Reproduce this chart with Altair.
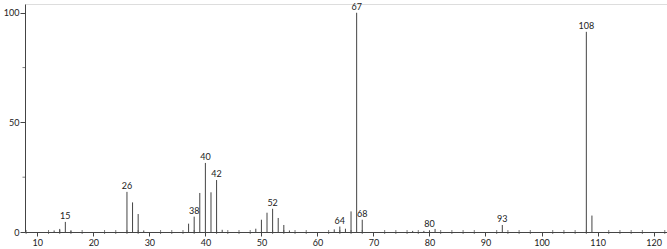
import altair as alt
import pandas as pd

# Mass spectrum peaks (m/z, relative intensity)
mz = [13, 14, 15, 16, 26, 27, 28, 29, 37, 38, 39, 40, 41, 42, 43,
      49, 50, 51, 52, 53, 54, 55, 63, 64, 65, 66, 67, 68,
      77, 79, 80, 81, 93, 108, 109]
intensity = [0.7, 1.4, 4.6, 0.5, 18.3, 13.5, 8.2, 0.7, 3.8, 7.0, 17.8, 31.5, 18.1, 23.7, 1.0,
             1.5, 5.6, 8.8, 10.6, 6.4, 3.2, 0.7, 1.2, 2.5, 1.5, 9.4, 100.0, 5.6,
             0.5, 0.5, 0.8, 1.4, 3.2, 91.3, 7.5]
labelled = [15, 26, 38, 40, 42, 52, 64, 67, 68, 80, 93, 108]

x_major = list(range(10, 121, 10))
x_minor = [v for v in range(8, 123, 2) if v % 10]
y_major = [0, 50, 100]
y_minor = [25, 75]
x_domain = [7.8, 122.4]
y_domain = [0, 104]

df = pd.DataFrame({"mz": mz, "int": intensity})
df["label"] = [str(m) if m in labelled else "" for m in mz]
lab = df[df["label"] != ""]

FONT = "Lato"
ink = "#444444"

xs = alt.Scale(domain=x_domain, nice=False, zero=False)
ys = alt.Scale(domain=y_domain, nice=False)

xaxis = alt.Axis(values=x_major, tickSize=4, labelPadding=2, labelFontSize=9,
                 labelFont=FONT, labelColor="#222", domainColor=ink, tickColor=ink,
                 grid=False, title=None, labelFlush=False)
yaxis = alt.Axis(values=y_major, tickSize=5, labelPadding=1, labelFontSize=9,
                 labelFont=FONT, labelColor="#222", domainColor=ink, tickColor=ink,
                 grid=False, title=None)

bars = alt.Chart(df).mark_rule(color=ink, strokeWidth=1).encode(
    x=alt.X("mz:Q", scale=xs, axis=xaxis),
    y=alt.Y("int:Q", scale=ys, axis=yaxis),
    y2=alt.datum(0),
)

texts = alt.Chart(lab).mark_text(baseline="bottom", dy=-1, fontSize=9, font=FONT,
                                 color="#222").encode(
    x=alt.X("mz:Q", scale=xs),
    y=alt.Y("int:Q", scale=ys),
    text="label:N",
)

xmin = alt.Chart(pd.DataFrame({"v": x_minor})).mark_tick(
    orient="vertical", size=4, thickness=1, color=ink).encode(
    x=alt.X("v:Q", scale=xs),
    y=alt.datum(0, scale=ys),
)

ymin = alt.Chart(pd.DataFrame({"v": y_minor})).mark_tick(
    orient="horizontal", size=3, thickness=1, color=ink, xOffset=-1).encode(
    y=alt.Y("v:Q", scale=ys),
    x=alt.datum(x_domain[0], scale=xs),
)

chart = alt.layer(bars, xmin, ymin, texts).properties(
    width=642, height=228,
    padding={"left": 25, "top": 4, "right": 0, "bottom": 17},
    autosize=alt.AutoSizeParams(type="none"),
).configure_view(stroke=None).configure(background="white")

chart.save("out.html", embed_options={"renderer": "svg", "actions": False})
